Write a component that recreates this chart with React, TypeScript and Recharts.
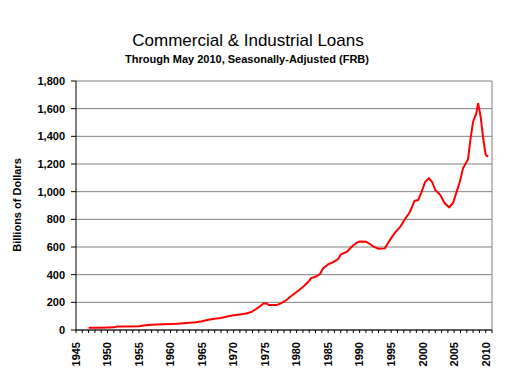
import { CartesianGrid, Line, LineChart, ReferenceLine, XAxis, YAxis } from "recharts";

const years = [
  1947.0, 1949.0, 1951.0, 1951.5, 1953.0, 1955.0, 1956.0, 1957.0, 1958.0, 1959.0,
  1960.0, 1961.0, 1962.0, 1963.0, 1964.0, 1965.0, 1966.0, 1967.0, 1968.0, 1969.0,
  1970.0, 1971.0, 1972.0, 1972.8, 1973.5, 1974.0, 1974.8, 1975.3, 1975.6, 1976.8,
  1977.5, 1978.4, 1979.0, 1980.0, 1981.0, 1981.9, 1982.3, 1983.0, 1983.7, 1984.2,
  1985.0, 1985.8, 1986.6, 1987.0, 1988.0, 1988.7, 1989.5, 1990.0, 1991.0, 1991.7,
  1992.2, 1993.0, 1994.0, 1994.8, 1995.6, 1996.4, 1997.2, 1998.0, 1998.7, 1999.3,
  1999.8, 2000.4, 2001.0, 2001.5, 2002.0, 2002.8, 2003.5, 2004.2, 2004.8, 2005.4,
  2005.9, 2006.4, 2007.2, 2007.6, 2008.0, 2008.5, 2008.8, 2009.2, 2009.6, 2010.0,
  2010.4,
];
const loans = [
  16, 17, 19, 25, 26, 28, 34, 38, 39, 41,
  44, 45, 48, 52, 56, 64, 74, 82, 87, 98,
  107, 112, 119, 130, 150, 165, 193, 190, 181, 180,
  192, 217, 240, 275, 310, 350, 375, 385, 405, 445,
  475, 490, 513, 545, 566, 600, 630, 640, 638, 620,
  602, 588, 590, 650, 704, 743, 802, 855, 933, 940,
  995, 1072, 1097, 1070, 1012, 976, 916, 887, 916, 1000,
  1072, 1169, 1234, 1386, 1506, 1566, 1639, 1542, 1386, 1265,
  1253,
];
const yTicks = [0, 200, 400, 600, 800, 1000, 1200, 1400, 1600, 1800];
const xTicks = Array.from({ length: 67 }, (_, i) => 1945 + i);

const data = years.map((year, i) => ({ year, value: loans[i] }));
const font = "'Liberation Sans', Arial, sans-serif";

function YearTick({ x, y, payload }: any) {
  if (payload.value % 5 !== 0) return null;
  return (
    <g transform={`translate(${x},${y})`}>
      <text
        transform="rotate(-90)"
        textAnchor="end"
        dy="0.35em"
        fontSize={11}
        fontWeight="bold"
        fontFamily={font}
        fill="#000"
      >
        {payload.value}
      </text>
    </g>
  );
}

export default function App() {
  return (
    <div style={{ position: "absolute", left: 0, top: 0, width: 507, height: 382, background: "#fff" }}>
      <svg width={507} height={382} style={{ position: "absolute", left: 0, top: 0 }}>
        <text x={248} y={46} textAnchor="middle" fontSize={17} fontFamily={font} fill="#000">
          Commercial &amp; Industrial Loans
        </text>
        <text x={247} y={63} textAnchor="middle" fontSize={11} fontWeight="bold" fontFamily={font} fill="#000">
          Through May 2010, Seasonally-Adjusted (FRB)
        </text>
        <text
          transform="translate(21,205) rotate(-90)"
          textAnchor="middle"
          fontSize={11}
          fontWeight="bold"
          fontFamily={font}
          fill="#000"
        >
          Billions of Dollars
        </text>
      </svg>
      <div style={{ position: "absolute", left: 0, top: 0 }}>
        <LineChart width={507} height={382} data={data} margin={{ top: 81, right: 15, bottom: 0, left: 30 }}>
          <CartesianGrid vertical={false} stroke="#808080" />
          <XAxis
            dataKey="year"
            type="number"
            domain={[1945, 2011]}
            ticks={xTicks}
            interval={0}
            height={52}
            tickSize={3}
            tickMargin={9}
            axisLine={{ stroke: "#000" }}
            tickLine={{ stroke: "#000" }}
            tick={<YearTick />}
          />
          <YAxis
            domain={[0, 1800]}
            ticks={yTicks}
            width={46}
            tickSize={5}
            tickMargin={6}
            axisLine={{ stroke: "#000" }}
            tickLine={{ stroke: "#000" }}
            tickFormatter={(v: number) => v.toLocaleString("en-US")}
            tick={{ fill: "#000", fontSize: 11, fontWeight: "bold", fontFamily: font }}
          />
          <ReferenceLine x={2011} stroke="#808080" />
          <Line
            type="linear"
            dataKey="value"
            stroke="#ff0000"
            strokeWidth={2}
            dot={false}
            isAnimationActive={false}
          />
        </LineChart>
      </div>
    </div>
  );
}
